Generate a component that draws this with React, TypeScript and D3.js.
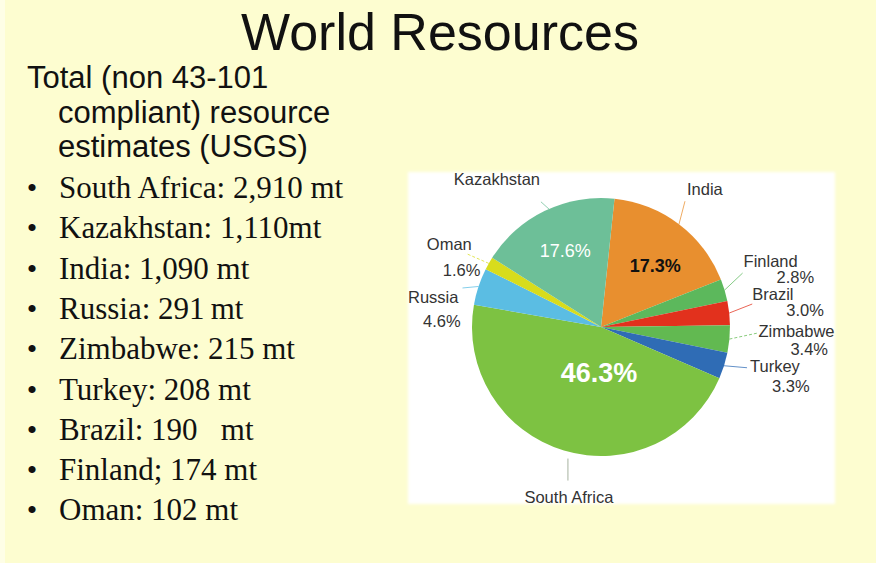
import React from "react";
import * as d3 from "d3";

// ---- data ----
const pieCountries = ["India", "Finland", "Brazil", "Zimbabwe", "Turkey", "South Africa", "Russia", "Oman", "Kazakhstan"];
const pieValues = [1090, 174, 190, 215, 208, 2910, 291, 102, 1110]; // mt
const sliceColors = ["#e88f2f", "#5cb85c", "#e2311d", "#62b951", "#2f6cb5", "#7dc242", "#5bbde3", "#d8dc1c", "#6dbf98"];

const titleText = "World Resources";
const introLines = ["Total (non 43-101", "compliant) resource", "estimates (USGS)"];
const bulletLabels = [
  "South Africa: 2,910 mt",
  "Kazakhstan: 1,110mt",
  "India: 1,090 mt",
  "Russia: 291\u2009mt",
  "Zimbabwe: 215 mt",
  "Turkey: 208 mt",
  "Brazil: 190   mt",
  "Finland; 174 mt",
  "Oman: 102 mt",
];

// label layout (offsets from slice edge point / centroid) — style, not data
type Layout = {
  leadFrom?: [number, number];
  leadTo?: [number, number];
  dash?: string;
  name?: [number, number, string];
  pct?: [number, number, string];
  inner?: { dx: number; dy: number; size: number; color: string; weight: string };
};
const layout: Record<string, Layout> = {
  India: { leadTo: [6, -23], name: [8, -29, "start"], inner: { dx: 6, dy: 9, size: 18, color: "#111", weight: "bold" } },
  Finland: { leadTo: [18, -17], name: [19, -23, "start"], pct: [52, -7, "start"] },
  Brazil: { leadTo: [23, -9], name: [23, -13, "start"], pct: [57, 2.5, "start"] },
  Zimbabwe: { leadTo: [28, -6], dash: "3,2", name: [29, -2.5, "start"], pct: [61, 15.5, "start"] },
  Turkey: { leadTo: [23, 2], name: [26, 6, "start"], pct: [48, 26, "start"] },
  "South Africa": { leadFrom: [4, 8], leadTo: [4, 30], name: [5, 52, "middle"], inner: { dx: 21, dy: -22, size: 27, color: "#fff", weight: "bold" } },
  Russia: { leadTo: [-16, 1.5], name: [-70.5, 16.5, "start"], pct: [-55.5, 40.5, "start"] },
  Oman: { leadTo: [-23, -10], dash: "3,2", name: [-62, -13.5, "start"], pct: [-46, 12.5, "start"] },
  Kazakhstan: { leadFrom: [6, 0], leadTo: [-4, -9], name: [-48, -26, "middle"], inner: { dx: -1, dy: 2, size: 18, color: "#fff", weight: "normal" } },
};

export default function App() {
  const W = 876, H = 563;
  const cx = 601, cy = 327, r = 129;
  const total = d3.sum(pieValues);
  const pct = d3.format(".1%");
  const pie = d3.pie<number>().sort(null).value((d) => d).startAngle((6 * Math.PI) / 180).endAngle((366 * Math.PI) / 180);
  const arcs = pie(pieValues);
  const arc = d3.arc<d3.PieArcDatum<number>>().innerRadius(0).outerRadius(r);
  const innerArc = d3.arc<d3.PieArcDatum<number>>().innerRadius(0.62 * r * 2).outerRadius(0); // centroid at 0.62r
  const edgeArc = d3.arc<d3.PieArcDatum<number>>().innerRadius(r).outerRadius(r);

  const sans = "'Liberation Sans', Arial, sans-serif";
  const serif = "'Liberation Serif', 'Times New Roman', serif";

  return (
    <svg width={W} height={H} style={{ position: "absolute", left: 0, top: 0, display: "block" }}>
      <defs>
        <filter id="soft" x="-5%" y="-5%" width="110%" height="110%">
          <feGaussianBlur stdDeviation="1.5" />
        </filter>
      </defs>
      <rect x={0} y={0} width={W} height={H} fill="#fdfdd0" />
      <rect x={0} y={0} width={5} height={H} fill="#fefee6" />
      <text x={440} y={50} textAnchor="middle" fontFamily={sans} fontSize={52} fill="#111">
        {titleText}
      </text>
      {introLines.map((t, i) => (
        <text key={t} x={i === 0 ? 27 : 58} y={88 + i * 34.7} fontFamily={sans} fontSize={31} fill="#111">
          {t}
        </text>
      ))}
      {bulletLabels.map((t, i) => {
        const y = 198 + i * 40.3;
        return (
          <g key={t}>
            <text x={32} y={y} textAnchor="middle" fontFamily={serif} fontSize={30} fill="#111">
              •
            </text>
            <text x={59} y={y} fontFamily={serif} fontSize={31} fill="#111" style={{ whiteSpace: "pre" }}>
              {t}
            </text>
          </g>
        );
      })}
      <rect x={408} y={172} width={427} height={332} fill="#ffffff" filter="url(#soft)" />
      <g transform={`translate(${cx},${cy})`}>
        {arcs.map((a, i) => (
          <path key={pieCountries[i]} d={arc(a) || ""} fill={sliceColors[i]} />
        ))}
        {arcs.map((a, i) => {
          const name = pieCountries[i];
          const L = layout[name];
          const [ex, ey] = edgeArc.centroid(a);
          const from = L.leadFrom || [0, 0];
          const to = L.leadTo || [0, 0];
          const p = pct(a.value / total);
          const els: React.ReactNode[] = [];
          els.push(
            <line
              key="lead"
              x1={ex + from[0]}
              y1={ey + from[1]}
              x2={ex + to[0]}
              y2={ey + to[1]}
              stroke={name === "South Africa" ? "#8a9a80" : sliceColors[i]}
              strokeOpacity={0.75}
              strokeWidth={1}
              strokeDasharray={L.dash}
            />
          );
          if (L.name)
            els.push(
              <text key="name" x={ex + L.name[0]} y={ey + L.name[1]} textAnchor={L.name[2] as any} fontFamily={sans} fontSize={16.5} fill="#333">
                {name}
              </text>
            );
          if (L.pct)
            els.push(
              <text key="pct" x={ex + L.pct[0]} y={ey + L.pct[1]} textAnchor={L.pct[2] as any} fontFamily={sans} fontSize={16.5} fill="#333">
                {p}
              </text>
            );
          if (L.inner) {
            const [ix, iy] = innerArc.centroid(a);
            els.push(
              <text
                key="inner"
                x={ix + L.inner.dx}
                y={iy + L.inner.dy}
                textAnchor="middle"
                fontFamily={sans}
                fontSize={L.inner.size}
                fontWeight={L.inner.weight}
                fill={L.inner.color}
              >
                {p}
              </text>
            );
          }
          return <g key={name}>{els}</g>;
        })}
      </g>
    </svg>
  );
}
